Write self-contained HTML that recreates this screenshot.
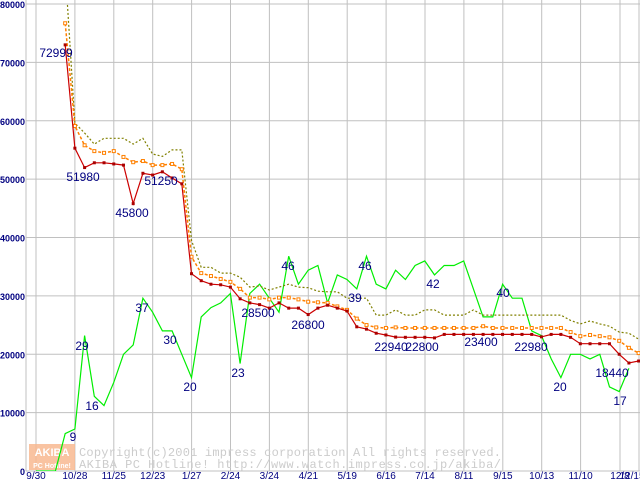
<!DOCTYPE html>
<html><head><meta charset="utf-8"><style>
html,body{margin:0;padding:0;background:#fff;}
svg{display:block;font-family:"Liberation Sans",sans-serif;}
</style></head><body>
<svg id="chart" width="640" height="480" viewBox="0 0 640 480" xmlns="http://www.w3.org/2000/svg">
<g id="grid"></g>
<g id="axes"></g>
<g id="watermark">
  <rect x="29" y="444" width="46" height="26" fill="#f8b890" opacity="0.85"/>
  <text x="52" y="456" font-size="11" font-weight="bold" fill="#fff" text-anchor="middle">AKIBA</text>
  <text x="52" y="468" font-size="7" font-weight="bold" fill="#fff" text-anchor="middle">PC Hotline!</text>
  <text x="79" y="456" font-size="12" fill="#cccccc" font-family="Liberation Mono, monospace" textLength="422">Copyright(c)2001 impress corporation All rights reserved.</text>
  <text x="79" y="468" font-size="12" fill="#cccccc" font-family="Liberation Mono, monospace" textLength="422">AKIBA PC Hotline!  http://www.watch.impress.co.jp/akiba/</text>
</g>
<g id="series"></g>
<g id="labels"></g>
</svg>
<script>
const xTickLabels = ["9/30","10/28","11/25","12/23","1/27","2/24","3/24","4/21","5/19","6/16","7/14","8/11","9/15","10/13","11/10","12/8","12/15"];
const yTicks = [0,10000,20000,30000,40000,50000,60000,70000,80000];
const redStart = 3;
const minPrice = [73000,55300,51980,52800,52800,52600,52400,45800,51000,50700,51250,50200,49200,33800,32600,32000,31900,31500,29500,28800,28500,27900,28800,27900,27900,26800,27900,28400,27900,27400,24700,24300,23600,23300,22940,22900,22900,22900,22800,23400,23400,23400,23400,23400,23400,23400,23400,23400,23400,22980,23400,23400,22900,21800,21800,21800,21800,20000,18500,18840];
const avgPrice = [76700,59100,55800,54800,54500,54800,53800,52900,53100,52400,52400,52600,51700,36700,33900,33400,32900,32400,31200,29700,29700,29400,29700,29700,29400,29000,28900,28800,28200,27600,26100,25000,24600,24500,24600,24500,24500,24500,24500,24500,24500,24500,24500,24800,24500,24500,24500,24500,24500,24500,24500,24500,23800,23100,23300,23100,22900,22300,21100,20200];
const maxPrice = [86000,59600,57900,56000,57000,57000,57000,56000,57000,54300,53900,55000,55000,39500,34900,34900,33900,33900,33200,31500,31700,31000,31500,32000,31500,31400,30800,30700,30700,29600,29600,29600,26700,26700,27600,26700,26700,27600,27600,26700,26700,26700,27600,26700,26700,26700,26700,26700,26700,26700,26700,26700,25800,25200,25700,25200,24800,23800,23600,22600];
const shopCount = [0,0,0,8,9,29,16,14,19,25,27,37,34,30,30,25,20,33,35,36,38,23,38,40,37,34,46,40,43,44,36,42,41,39,46,40,39,43,41,44,45,42,44,44,45,39,33,33,40,37,37,30,29,24,20,25,25,24,25,18,17,22];
const countScale = 800;
const valueLabels = [["72999",56,57],["51980",83,181],["45800",132,217],["51250",161,185],["9",73,441],["29",82,350],["16",92,410],["37",142,312],["30",170,344],["20",190,391],["23",238,377],["28500",258,317],["46",288,270],["26800",308,329],["39",355,302],["46",365,270],["22940",391,351],["22800",422,351],["42",433,288],["23400",481,346],["40",503,297],["22980",531,351],["20",560,391],["18440",612,377],["17",620,405]];

const NS="http://www.w3.org/2000/svg";
const X0=36, WEEK=9.72, Y0=471, YTOP=4, YMAX=80000;
function xs(i){return X0+i*WEEK;}
function ys(v){return Y0-(v/YMAX)*(Y0-YTOP);}
function mk(tag,attrs,parent){const e=document.createElementNS(NS,tag);for(const k in attrs)e.setAttribute(k,attrs[k]);parent.appendChild(e);return e;}
const grid=document.getElementById('grid'), axes=document.getElementById('axes'), ser=document.getElementById('series'), lab=document.getElementById('labels');
const svg=document.getElementById('chart');
const clip=mk('clipPath',{id:'plotclip'},svg);mk('rect',{x:26,y:YTOP,width:614,height:Y0-YTOP},clip);

yTicks.forEach(v=>{
  const l=mk('line',{x1:26,x2:640,y1:ys(v),y2:ys(v),stroke:'#c0c0c0','stroke-width':1},grid);
  
  
  const t=mk('text',{x:25,y:ys(v)+4,'font-size':9,'font-weight':'bold',fill:'#000080','text-anchor':'end'},axes);
  t.textContent=v;
  
  
});
xTickLabels.forEach((s,k)=>{
  let x = k<15 ? X0+k*38.9 : (k===15?620:632);
  if(k<16){
    const l=mk('line',{x1:x,x2:x,y1:0,y2:Y0,stroke:'#c0c0c0','stroke-width':1},grid);
    
    
  }
  const t=mk('text',{x:x,y:479,'font-size':10,fill:'#000080','text-anchor':'middle'},axes);
  t.textContent=s;
  
  
});
mk('line',{x1:639,x2:639,y1:0,y2:Y0,stroke:'#c0c0c0'},grid);
const ax=mk('line',{x1:26,x2:26,y1:0,y2:Y0,stroke:'#c0c0c0'},axes);



function pts(arr,start,scale){return arr.map((v,j)=>xs(start+j).toFixed(1)+','+ys(v*scale).toFixed(1)).join(' ');}
const g=mk('g',{'clip-path':'url(#plotclip)'},ser);
const gl=mk('polyline',{points:pts(shopCount,0,countScale),fill:'none',stroke:'#00ee00','stroke-width':1.2},g);


const ol=mk('polyline',{points:pts(maxPrice,redStart,1),fill:'none',stroke:'#808000','stroke-width':1.2,'stroke-dasharray':'2,2'},g);


const orl=mk('polyline',{points:pts(avgPrice,redStart,1),fill:'none',stroke:'#ff8000','stroke-width':1.5,'stroke-dasharray':'3,2'},g);


avgPrice.forEach((v,j)=>{
  const r=mk('rect',{x:xs(redStart+j)-1.5,y:ys(v)-1.5,width:3,height:3,fill:'#fff',stroke:'#ff8000','stroke-width':1},g);
  
  
});
const rl=mk('polyline',{points:pts(minPrice,redStart,1),fill:'none',stroke:'#cc0000','stroke-width':1.2},g);


minPrice.forEach((v,j)=>{
  const r=mk('rect',{x:xs(redStart+j)-1.5,y:ys(v)-1.5,width:3,height:3,fill:'#aa0000'},g);
  
  
});
valueLabels.forEach(([s,x,y])=>{
  const t=mk('text',{x:x,y:y,'font-size':12,fill:'#000080','text-anchor':'middle'},lab);
  t.textContent=s;
  
  
});
</script>
</body></html>
